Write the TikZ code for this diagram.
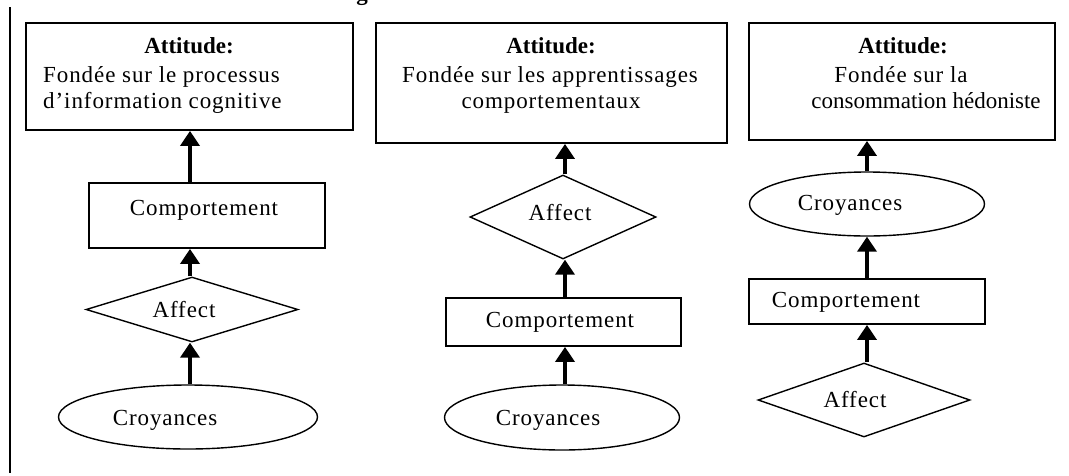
\documentclass[tikz,border=0pt]{standalone}
\usepackage{fontspec}
\setmainfont{Liberation Serif}[LetterSpace=4]
\usetikzlibrary{shapes.geometric,arrows.meta}
\begin{document}
\begin{tikzpicture}[x=1pt,y=-1pt,
  box/.style={draw,line width=1.8pt,rectangle,inner sep=0pt},
  dia/.style={draw,line width=1.4pt,diamond,inner sep=0pt},
  ell/.style={draw,line width=1.4pt,ellipse,inner sep=0pt},
  txt/.style={inner sep=0pt,font=\fontsize{23}{27}\selectfont},
  btxt/.style={inner sep=0pt,font=\fontsize{23}{27}\selectfont\bfseries\addfontfeature{LetterSpace=0}},
  arr/.style={line width=3.6pt,-{Triangle[width=19pt,length=15pt]}}]
\useasboundingbox (0,0) rectangle (1069,475);

% clipped title fragment
\node[btxt,anchor=base] (title) at (362,0) {g};
% left rule
\coordinate (lt) at (10,7);
\coordinate (lb) at (10,473);
\draw[line width=2pt] (lt) -- (lb);

% column axes
\coordinate (c1) at (190,0);
\coordinate (c2) at (565,0);
\coordinate (c3) at (867,0);

% ---------- column 1 ----------
\node[box,minimum width=327pt,minimum height=107pt] (att1) at (189.5,76.5) {};
\node[btxt,anchor=base] (att1a) at (189,53) {Attitude:};
\node[txt,anchor=base west] (att1b) at (43,82) {Fondée sur le processus};
\node[txt,anchor=base west] (att1c) at (43,108) {d’information cognitive};

\node[box,minimum width=236pt,minimum height=65pt] (comp1) at (207,215.5) {};
\node[txt,anchor=base] (comp1t) at (204,215) {Comportement};

\node[dia,minimum width=212pt,minimum height=65pt] (aff1) at (192,309.5) {};
\node[txt,anchor=base] (aff1t) at (184,317) {Affect};

\node[ell,minimum width=259pt,minimum height=64pt] (croy1) at (188,417) {};
\node[txt,anchor=base] (croy1t) at (165,425) {Croyances};

\draw[arr] (comp1.north -| c1) -- (att1.south -| c1);
\draw[arr] (aff1.north -| c1) -- (comp1.south -| c1);
\draw[arr] (croy1.north -| c1) -- (aff1.south -| c1);

% ---------- column 2 ----------
\node[box,minimum width=351pt,minimum height=120pt] (att2) at (551.5,83) {};
\node[btxt,anchor=base] (att2a) at (551,53) {Attitude:};
\node[txt,anchor=base] (att2b) at (550,82) {Fondée sur les apprentissages};
\node[txt,anchor=base] (att2c) at (551,108) {comportementaux};

\node[dia,minimum width=186pt,minimum height=84pt] (aff2) at (563,217) {};
\node[txt,anchor=base] (aff2t) at (560,220) {Affect};

\node[box,minimum width=235pt,minimum height=48pt] (comp2) at (563.5,322) {};
\node[txt,anchor=base] (comp2t) at (560,327) {Comportement};

\node[ell,minimum width=235pt,minimum height=65pt] (croy2) at (562,417.5) {};
\node[txt,anchor=base] (croy2t) at (548,425) {Croyances};

\draw[arr] (aff2.north -| c2) -- (att2.south -| c2);
\draw[arr] (comp2.north -| c2) -- (aff2.south -| c2);
\draw[arr] (croy2.north -| c2) -- (comp2.south -| c2);

% ---------- column 3 ----------
\node[box,minimum width=306pt,minimum height=117pt] (att3) at (902,81.5) {};
\node[btxt,anchor=base] (att3a) at (903,53) {Attitude:};
\node[txt,anchor=base] (att3b) at (901,82) {Fondée sur la};
\node[txt,anchor=base,font=\fontsize{23}{27}\selectfont\addfontfeature{LetterSpace=0}] (att3c) at (926,108) {consommation hédoniste};

\node[ell,minimum width=235pt,minimum height=64pt] (croy3) at (867,204) {};
\node[txt,anchor=base] (croy3t) at (850,210) {Croyances};

\node[box,minimum width=236pt,minimum height=45pt] (comp3) at (867,301.5) {};
\node[txt,anchor=base] (comp3t) at (846,307) {Comportement};

\node[dia,minimum width=212pt,minimum height=74pt] (aff3) at (864,400) {};
\node[txt,anchor=base] (aff3t) at (855,407) {Affect};

\draw[arr] (croy3.north -| c3) -- (att3.south -| c3);
\draw[arr] (comp3.north -| c3) -- (croy3.south -| c3);
\draw[arr] (aff3.north -| c3) -- (comp3.south -| c3);
\end{tikzpicture}
\end{document}
